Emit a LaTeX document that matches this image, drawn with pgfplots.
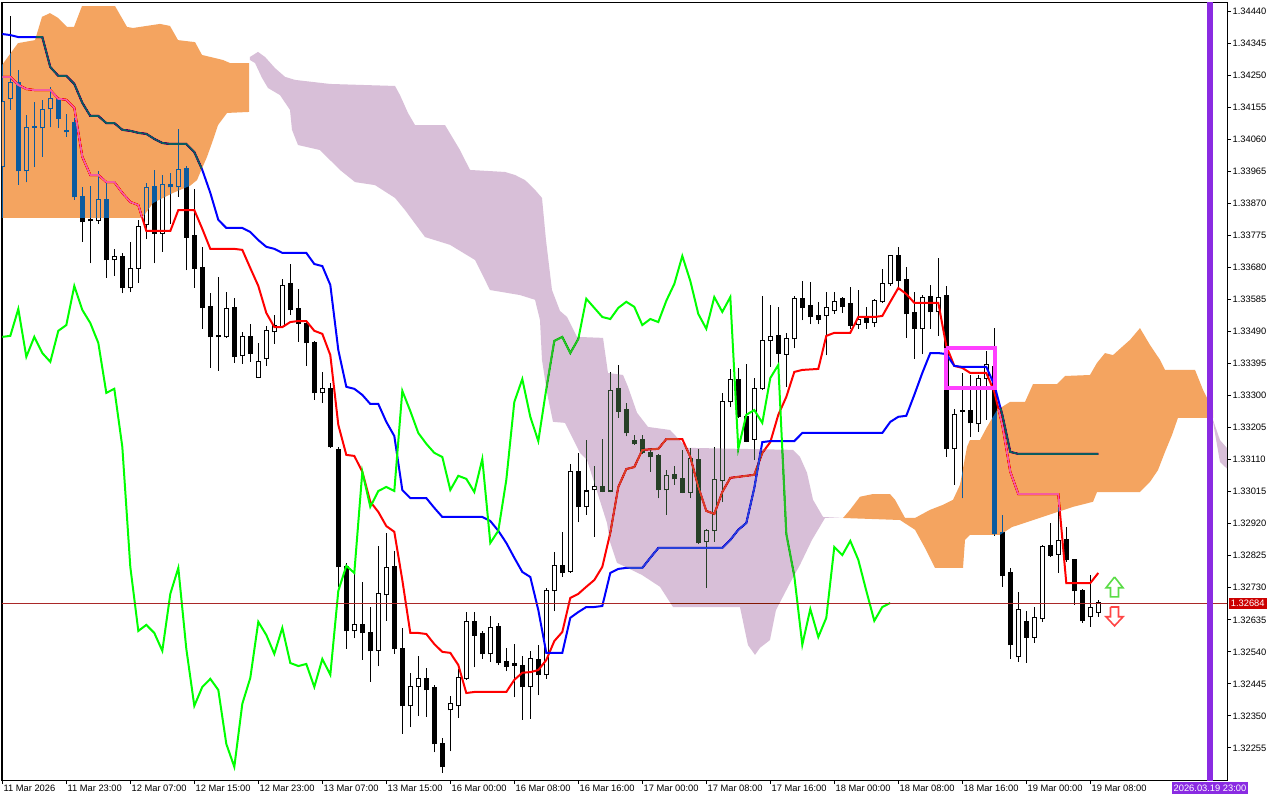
\documentclass[border=0pt]{standalone}
\usepackage{pgfplots}
\pgfplotsset{compat=1.18}
\usepackage{pgfplotstable}
\usepackage{fontspec}
\setmainfont{Liberation Sans}

\definecolor{tenkan}{RGB}{255,0,0}
\definecolor{kijun}{RGB}{0,0,255}
\definecolor{chikou}{RGB}{0,255,0}
% cloud colours are given inverted and laid on with blend mode=difference:
% white under them turns into the cloud colour, black candles into its complement
\definecolor{sandyinv}{RGB}{11,91,159}   % sandy brown 244,164,96
\definecolor{thistleinv}{RGB}{39,64,39}  % thistle 216,191,216
\definecolor{cursor}{RGB}{138,43,226}
\definecolor{bidline}{RGB}{170,40,40}
\definecolor{bidbox}{RGB}{204,0,0}
\definecolor{boxmag}{RGB}{255,64,255}

% error-bar candles: no visible marker at the data point
\pgfplotsset{candle/.style={only marks, mark=*, mark size=0pt, mark options={draw=none, fill=none}}}

% GBPUSD-like H1 candles, k = hours from 11 Mar 15:00
\pgfplotstableread{
k o h l c
0 1.33978 1.34191 1.33963 1.34171
1 1.34180 1.34426 1.34147 1.34227
2 1.34227 1.34265 1.33925 1.33966
3 1.33966 1.34132 1.33933 1.34096
4 1.34096 1.34171 1.33978 1.34099
5 1.34094 1.34177 1.34008 1.34147
6 1.34150 1.34215 1.34096 1.34180
7 1.34177 1.34182 1.34094 1.34123
8 1.34082 1.34135 1.34067 1.34085
9 1.34111 1.34123 1.33880 1.33889
10 1.33889 1.33919 1.33756 1.33815
11 1.33818 1.33922 1.33693 1.33821
12 1.33818 1.33966 1.33809 1.33880
13 1.33880 1.33930 1.33649 1.33702
14 1.33702 1.33735 1.33655 1.33711
15 1.33711 1.33723 1.33604 1.33619
16 1.33619 1.33756 1.33607 1.33678
17 1.33678 1.33821 1.33634 1.33800
18 1.33806 1.33930 1.33764 1.33916
19 1.33919 1.33969 1.33693 1.33782
20 1.33782 1.33954 1.33726 1.33927
21 1.33927 1.33960 1.33809 1.33919
22 1.33919 1.34091 1.33889 1.33969
23 1.33972 1.33981 1.33672 1.33770
24 1.33776 1.33913 1.33619 1.33678
25 1.33681 1.33741 1.33498 1.33560
26 1.33563 1.33604 1.33382 1.33474
27 1.33474 1.33652 1.33373 1.33477
28 1.33474 1.33607 1.33471 1.33557
29 1.33560 1.33589 1.33397 1.33415
30 1.33418 1.33489 1.33394 1.33474
31 1.33474 1.33512 1.33400 1.33426
32 1.33355 1.33456 1.33352 1.33400
33 1.33409 1.33506 1.33388 1.33492
34 1.33489 1.33539 1.33453 1.33509
35 1.33506 1.33646 1.33503 1.33625
36 1.33631 1.33690 1.33539 1.33554
37 1.33557 1.33616 1.33459 1.33515
38 1.33515 1.33518 1.33388 1.33456
39 1.33456 1.33462 1.33287 1.33308
40 1.33308 1.33370 1.33278 1.33320
41 1.33320 1.33337 1.33145 1.33148
42 1.33139 1.33148 1.32733 1.32792
43 1.32792 1.32804 1.32549 1.32602
44 1.32602 1.32774 1.32581 1.32620
45 1.32620 1.32747 1.32516 1.32596
46 1.32596 1.32673 1.32451 1.32543
47 1.32543 1.32854 1.32498 1.32712
48 1.32709 1.32893 1.32632 1.32789
49 1.32792 1.32839 1.32534 1.32549
50 1.32549 1.32611 1.32297 1.32380
51 1.32380 1.32478 1.32317 1.32436
52 1.32436 1.32528 1.32350 1.32460
53 1.32460 1.32492 1.32347 1.32427
54 1.32433 1.32442 1.32243 1.32267
55 1.32267 1.32285 1.32181 1.32199
56 1.32368 1.32409 1.32246 1.32386
57 1.32380 1.32489 1.32344 1.32463
58 1.32460 1.32658 1.32457 1.32629
59 1.32629 1.32658 1.32495 1.32590
60 1.32593 1.32602 1.32519 1.32534
61 1.32534 1.32647 1.32510 1.32611
62 1.32614 1.32626 1.32501 1.32507
63 1.32510 1.32552 1.32483 1.32498
64 1.32501 1.32563 1.32406 1.32504
65 1.32501 1.32528 1.32338 1.32436
66 1.32436 1.32543 1.32341 1.32519
67 1.32516 1.32561 1.32412 1.32472
68 1.32472 1.32730 1.32460 1.32721
69 1.32721 1.32836 1.32661 1.32795
70 1.32795 1.32896 1.32762 1.32774
71 1.32777 1.33097 1.32774 1.33074
72 1.33074 1.33130 1.32925 1.32970
73 1.32970 1.33168 1.32946 1.33017
74 1.33020 1.33091 1.32881 1.33029
75 1.33029 1.33171 1.33014 1.33017
76 1.33017 1.33370 1.33014 1.33314
77 1.33320 1.33391 1.33234 1.33254
78 1.33260 1.33278 1.33180 1.33189
79 1.33168 1.33183 1.33154 1.33157
80 1.33171 1.33183 1.33127 1.33130
81 1.33130 1.33145 1.33074 1.33118
82 1.33121 1.33127 1.32996 1.33020
83 1.33020 1.33079 1.32946 1.33062
84 1.33065 1.33091 1.33035 1.33053
85 1.33053 1.33139 1.33011 1.33014
86 1.33014 1.33145 1.32996 1.33112
87 1.33109 1.33142 1.32860 1.32863
88 1.32866 1.32905 1.32730 1.32899
89 1.32899 1.33148 1.32866 1.33050
90 1.33047 1.33308 1.32985 1.33281
91 1.33281 1.33379 1.33266 1.33349
92 1.33349 1.33382 1.33234 1.33237
93 1.33237 1.33394 1.33162 1.33165
94 1.33171 1.33352 1.33109 1.33320
95 1.33320 1.33595 1.33317 1.33462
96 1.33462 1.33569 1.33385 1.33474
97 1.33477 1.33563 1.33385 1.33426
98 1.33423 1.33486 1.33326 1.33468
99 1.33468 1.33595 1.33441 1.33587
100 1.33587 1.33640 1.33524 1.33560
101 1.33566 1.33637 1.33512 1.33533
102 1.33536 1.33578 1.33512 1.33527
103 1.33536 1.33607 1.33420 1.33560
104 1.33551 1.33607 1.33542 1.33578
105 1.33587 1.33592 1.33545 1.33563
106 1.33572 1.33622 1.33498 1.33509
107 1.33512 1.33613 1.33498 1.33527
108 1.33533 1.33563 1.33498 1.33518
109 1.33518 1.33587 1.33503 1.33581
110 1.33578 1.33675 1.33575 1.33631
111 1.33631 1.33717 1.33625 1.33714
112 1.33714 1.33741 1.33613 1.33640
113 1.33643 1.33681 1.33471 1.33542
114 1.33545 1.33607 1.33409 1.33498
115 1.33498 1.33598 1.33423 1.33592
116 1.33595 1.33628 1.33498 1.33548
117 1.33548 1.33708 1.33477 1.33592
118 1.33598 1.33625 1.33118 1.33142
119 1.33142 1.33260 1.33035 1.33243
120 1.33254 1.33367 1.32996 1.33257
121 1.33257 1.33361 1.33177 1.33219
122 1.33216 1.33361 1.33192 1.33352
123 1.33352 1.33432 1.33228 1.33391
124 1.33385 1.33501 1.32884 1.32890
125 1.32893 1.32946 1.32733 1.32765
126 1.32774 1.32789 1.32519 1.32561
127 1.32525 1.32718 1.32510 1.32667
128 1.32629 1.32661 1.32507 1.32584
129 1.32584 1.32673 1.32567 1.32641
130 1.32638 1.32857 1.32629 1.32851
131 1.32854 1.32922 1.32822 1.32827
132 1.32830 1.32970 1.32774 1.32869
133 1.32872 1.32910 1.32807 1.32813
134 1.32813 1.32816 1.32679 1.32721
135 1.32721 1.32727 1.32626 1.32632
136 1.32644 1.32768 1.32614 1.32673
137 1.32658 1.32694 1.32644 1.32685
}\candles

\begin{document}
\begin{tikzpicture}
\path[use as bounding box] (0pt,0pt) rectangle (960pt,-600pt);
\begin{axis}[
    at={(1.5pt,-1.5pt)}, anchor=north west,
    width=918.75pt, height=583.5pt, scale only axis,
    xmin=-0.04, xmax=153.09, ymin=1.32160, ymax=1.34467,
    clip mode=individual,
    axis background/.style={fill=white},
    axis line style={line width=0.75pt},
    tick align=outside, major tick length=3pt,
    major tick style={black, line width=0.75pt},
    xtick pos=left, ytick pos=right, yticklabel pos=right,
    scaled y ticks=false,
    every tick label/.append style={font=\fontsize{7}{8}\selectfont},
    ytick={1.34440,1.34345,1.34250,1.34155,1.34060,1.33965,1.33870,1.33775,1.33680,1.33585,1.33490,1.33395,1.33300,1.33205,1.33110,1.33015,1.32920,1.32825,1.32730,1.32635,1.32540,1.32445,1.32350,1.32255},
    yticklabels={1.34440,1.34345,1.34250,1.34155,1.34060,1.33965,1.33870,1.33775,1.33680,1.33585,1.33490,1.33395,1.33300,1.33205,1.33110,1.33015,1.32920,1.32825,1.32730,1.32635,1.32540,1.32445,1.32350,1.32255},
    yticklabel style={anchor=west, inner sep=0pt, xshift=1pt},
    xtick={0,8,...,136},
    xticklabels={11 Mar 2026,11 Mar 23:00,12 Mar 07:00,12 Mar 15:00,12 Mar 23:00,13 Mar 07:00,13 Mar 15:00,16 Mar 00:00,16 Mar 08:00,16 Mar 16:00,17 Mar 00:00,17 Mar 08:00,17 Mar 16:00,18 Mar 00:00,18 Mar 08:00,18 Mar 16:00,19 Mar 00:00,19 Mar 08:00},
    xticklabel style={anchor=north west, inner sep=0pt, xshift=0.75pt, yshift=-0.5pt},
]
% wicks
\addplot[candle, error bars/.cd, y dir=plus, y explicit, error mark=none,
    error bar style={black, line width=0.75pt}]
    table[x=k, y=l, y error plus expr={\thisrow{h}-\thisrow{l}}] {\candles};
% bodies, all black first
\addplot[candle, error bars/.cd, y dir=plus, y explicit, error mark=none,
    error bar style={black, line width=3.75pt}]
    table[x=k, y expr={min(\thisrow{o},\thisrow{c})-0.000015},
          y error plus expr={abs(\thisrow{o}-\thisrow{c})+0.00003}] {\candles};
% hollow inside of the bull candles
\addplot[candle, restrict expr to domain={\thisrow{c}-\thisrow{o}}{0.00004:1},
    error bars/.cd, y dir=plus, y explicit, error mark=none,
    error bar style={white, line width=2.25pt}]
    table[x=k, y expr={\thisrow{o}+0.000015},
          y error plus expr={\thisrow{c}-\thisrow{o}-0.00003}] {\candles};

% Tenkan-sen
\addplot[tenkan, line width=1.5pt] coordinates {
(0,1.34245)(1,1.34245)(2,1.34221)(3,1.34209)(4,1.34206)(6,1.34206)(7,1.34180)(8,1.34177)(9,1.34153)(10,1.34008)(11,1.33954)(12,1.33954)(13,1.33933)(14,1.33933)(15,1.33901)(16,1.33874)(17,1.33865)(18,1.33788)(21,1.33788)(22,1.33850)(24,1.33850)(25,1.33794)(26,1.33735)(29,1.33735)(30,1.33732)(31,1.33678)(32,1.33625)(33,1.33545)(34,1.33503)(35,1.33503)(36,1.33518)(37,1.33521)(38,1.33521)(39,1.33492)(40,1.33483)(41,1.33420)(42,1.33213)(43,1.33124)(44,1.33121)(45,1.33074)(46,1.32985)(47,1.32955)(48,1.32913)(49,1.32896)(50,1.32753)(51,1.32596)(52,1.32596)(53,1.32593)(54,1.32563)(55,1.32540)(56,1.32537)(57,1.32501)(58,1.32418)(59,1.32421)(63,1.32421)(64,1.32457)(65,1.32478)(66,1.32480)(67,1.32486)(68,1.32516)(69,1.32572)(70,1.32599)(71,1.32700)(72,1.32712)(73,1.32733)(74,1.32753)(75,1.32792)(76,1.32893)(77,1.33029)(78,1.33082)(79,1.33088)(80,1.33139)(82,1.33142)(83,1.33171)(85,1.33171)(86,1.33118)(87,1.33029)(88,1.32958)(89,1.32949)(90,1.33014)(91,1.33056)(92,1.33059)(93,1.33062)(94,1.33065)(95,1.33130)(96,1.33162)(97,1.33243)(98,1.33296)(99,1.33370)(100,1.33376)(102,1.33379)(103,1.33477)(104,1.33486)(106,1.33486)(107,1.33533)(109,1.33533)(110,1.33536)(111,1.33578)(112,1.33619)(113,1.33601)(114,1.33575)(117,1.33575)(118,1.33447)(119,1.33388)(120,1.33382)(121,1.33367)(123,1.33367)(124,1.33311)(125,1.33213)(126,1.33074)(127,1.33008)(132,1.33008)(133,1.32744)(136,1.32744)(137,1.32774)};
% Kijun-sen
\addplot[kijun, line width=1.5pt] coordinates {
(0,1.34372)(1,1.34369)(2,1.34363)(5,1.34363)(6,1.34274)(7,1.34248)(8,1.34248)(9,1.34224)(10,1.34168)(11,1.34129)(12,1.34129)(13,1.34108)(14,1.34108)(15,1.34088)(16,1.34085)(17,1.34079)(18,1.34076)(19,1.34061)(20,1.34049)(21,1.34046)(23,1.34046)(24,1.34022)(25,1.33969)(26,1.33901)(27,1.33821)(28,1.33797)(30,1.33797)(31,1.33785)(32,1.33761)(33,1.33741)(34,1.33735)(35,1.33723)(38,1.33723)(39,1.33690)(40,1.33684)(41,1.33628)(42,1.33435)(43,1.33326)(44,1.33320)(45,1.33302)(46,1.33275)(47,1.33275)(48,1.33222)(49,1.33180)(50,1.33020)(51,1.32996)(53,1.32996)(54,1.32967)(55,1.32940)(60,1.32940)(61,1.32928)(62,1.32899)(63,1.32863)(64,1.32819)(65,1.32777)(66,1.32762)(67,1.32664)(68,1.32537)(70,1.32537)(71,1.32641)(72,1.32658)(73,1.32673)(74,1.32673)(75,1.32676)(76,1.32774)(77,1.32786)(78,1.32789)(80,1.32789)(81,1.32819)(82,1.32848)(90,1.32848)(91,1.32872)(92,1.32902)(93,1.32922)(94,1.33026)(95,1.33162)(96,1.33165)(99,1.33165)(100,1.33189)(110,1.33189)(111,1.33222)(112,1.33237)(113,1.33240)(114,1.33302)(115,1.33367)(116,1.33426)(117,1.33426)(118,1.33423)(119,1.33388)(120,1.33385)(123,1.33385)(124,1.33332)(125,1.33243)(126,1.33133)(127,1.33127)(137,1.33127)};
% Chikou span
\addplot[chikou, line width=1.5pt] coordinates {
(0,1.33474)(1,1.33477)(2,1.33557)(3,1.33415)(4,1.33474)(5,1.33426)(6,1.33400)(7,1.33492)(8,1.33509)(9,1.33625)(10,1.33554)(11,1.33515)(12,1.33456)(13,1.33308)(14,1.33320)(15,1.33148)(16,1.32792)(17,1.32602)(18,1.32620)(19,1.32596)(20,1.32543)(21,1.32712)(22,1.32789)(23,1.32549)(24,1.32380)(25,1.32436)(26,1.32460)(27,1.32427)(28,1.32267)(29,1.32199)(30,1.32386)(31,1.32463)(32,1.32629)(33,1.32590)(34,1.32534)(35,1.32611)(36,1.32507)(37,1.32498)(38,1.32504)(39,1.32436)(40,1.32519)(41,1.32472)(42,1.32721)(43,1.32795)(44,1.32774)(45,1.33074)(46,1.32970)(47,1.33017)(48,1.33029)(49,1.33017)(50,1.33314)(51,1.33254)(52,1.33189)(53,1.33157)(54,1.33130)(55,1.33118)(56,1.33020)(57,1.33062)(58,1.33053)(59,1.33014)(60,1.33112)(61,1.32863)(62,1.32899)(63,1.33050)(64,1.33281)(65,1.33349)(66,1.33237)(67,1.33165)(68,1.33320)(69,1.33462)(70,1.33474)(71,1.33426)(72,1.33468)(73,1.33587)(74,1.33560)(75,1.33533)(76,1.33527)(77,1.33560)(78,1.33578)(79,1.33563)(80,1.33509)(81,1.33527)(82,1.33518)(83,1.33581)(84,1.33631)(85,1.33714)(86,1.33640)(87,1.33542)(88,1.33498)(89,1.33592)(90,1.33548)(91,1.33592)(92,1.33142)(93,1.33243)(94,1.33257)(95,1.33219)(96,1.33352)(97,1.33391)(98,1.32890)(99,1.32765)(100,1.32561)(101,1.32667)(102,1.32584)(103,1.32641)(104,1.32851)(105,1.32827)(106,1.32869)(107,1.32813)(108,1.32721)(109,1.32632)(110,1.32673)(111,1.32685)};
% bid line
\addplot[bidline, line width=0.75pt] coordinates {(-1,1.32684)(154,1.32684)};

% Kumo, bullish part 1
\addplot[draw=none, fill=sandyinv, blend mode=difference] coordinates {
(-0.5,1.34265)(1.34,1.34325)(1.96,1.34345)(4.09,1.34354)(4.96,1.34423)(5.96,1.34434)(6.96,1.34420)(8.09,1.34393)(8.96,1.34393)(9.96,1.34455)(14.09,1.34455)(15.59,1.34393)(16.34,1.34390)(19.71,1.34402)(20.96,1.34396)(21.96,1.34354)(24.09,1.34348)(24.96,1.34310)(27.59,1.34295)(28.46,1.34286)(30.84,1.34286)
(30.84,1.34141)(28.09,1.34138)(26.96,1.34102)(26.34,1.34058)(25.59,1.34008)(24.71,1.33960)(24.34,1.33939)(23.46,1.33922)(21.34,1.33901)(18.84,1.33871)(17.59,1.33830)(17.21,1.33827)(-0.5,1.33827)};
% Kumo, bearish part
\addplot[draw=none, fill=thistleinv, blend mode=difference] coordinates {
(30.96,1.34304)(31.96,1.34319)(32.84,1.34304)(34.09,1.34271)(35.34,1.34245)(36.59,1.34236)(40.96,1.34224)(49.09,1.34218)(49.71,1.34191)(50.71,1.34138)(51.59,1.34102)(55.34,1.34102)(57.21,1.34028)(58.46,1.33969)(62.84,1.33963)(64.09,1.33954)(65.34,1.33939)(66.59,1.33910)(67.46,1.33886)(67.96,1.33761)(68.71,1.33613)(69.71,1.33551)(70.59,1.33533)(71.84,1.33474)(75.09,1.33471)(75.71,1.33367)(77.59,1.33361)(78.21,1.33326)(79.34,1.33249)(80.71,1.33207)(83.46,1.33198)(85.59,1.33145)(98.84,1.33139)(99.71,1.33118)(100.59,1.33071)(101.34,1.32991)(102.59,1.32940)(105.09,1.32937)
(102.84,1.32937)(101.21,1.32872)(99.71,1.32798)(98.46,1.32744)(96.71,1.32664)(95.96,1.32575)(94.71,1.32552)(94.09,1.32531)(93.21,1.32560)(92.21,1.32673)(83.84,1.32673)(82.21,1.32733)(79.96,1.32768)(76.84,1.32804)(75.96,1.32866)(75.59,1.32922)(73.09,1.33109)(72.21,1.33130)(70.34,1.33219)(68.84,1.33222)(68.09,1.33308)(67.46,1.33406)(67.21,1.33524)(66.59,1.33584)(64.71,1.33598)(60.96,1.33613)(59.09,1.33702)(55.96,1.33747)(52.84,1.33770)(50.34,1.33850)(49.09,1.33886)(46.59,1.33924)(44.09,1.33933)(42.21,1.33969)(39.71,1.34028)(36.96,1.34043)(36.21,1.34088)(35.96,1.34147)(34.71,1.34191)(33.21,1.34212)(32.46,1.34242)(31.59,1.34286)(30.96,1.34295)};
% Kumo, bullish part 2
\addplot[draw=none, fill=sandyinv, blend mode=difference] coordinates {
(105.09,1.32937)(105.96,1.32961)(107.21,1.33000)(108.84,1.33008)(110.96,1.33008)(111.59,1.32991)(112.84,1.32937)(114.09,1.32937)(115.96,1.32961)(117.59,1.32976)(118.84,1.32991)(119.71,1.33035)(120.59,1.33148)(120.96,1.33168)(122.21,1.33168)(123.09,1.33207)(124.34,1.33257)(125.96,1.33281)(127.84,1.33281)(128.84,1.33334)(131.84,1.33334)(132.84,1.33358)(135.96,1.33361)(136.84,1.33397)(137.84,1.33426)(138.84,1.33420)(139.96,1.33444)(140.96,1.33465)(142.21,1.33500)(143.46,1.33450)(144.71,1.33406)(145.34,1.33376)(149.09,1.33376)(150.09,1.33317)(151.34,1.33257)
(151.34,1.33234)(146.96,1.33234)(146.21,1.33183)(145.34,1.33133)(144.46,1.33079)(143.46,1.33044)(142.21,1.33014)(136.84,1.33014)(136.34,1.32985)(133.84,1.32970)(126.21,1.32910)(124.71,1.32887)(120.96,1.32887)(120.34,1.32872)(120.09,1.32789)(116.59,1.32789)(115.34,1.32848)(114.09,1.32902)(112.21,1.32931)};
\addplot[draw=none, fill=thistleinv, blend mode=difference] coordinates {
(151.34,1.33228)(152.21,1.33168)(153.5,1.33133)(153.5,1.33074)(152.21,1.33103)(151.34,1.33222)};

% marked box and signal arrows
\addplot[boxmag, line width=3pt, line cap=square] coordinates {
(117.96,1.33441)(124.09,1.33441)(124.09,1.33323)(117.96,1.33323)(117.96,1.33441)};
\addplot[draw={rgb,255:red,90;green,220;blue,70}, line width=1.2pt, line join=miter] coordinates {
(139.03,1.32762)(140.09,1.32730)(139.53,1.32730)(139.53,1.32703)(138.53,1.32703)(138.53,1.32730)(137.97,1.32730)(139.03,1.32762)};
\addplot[draw={rgb,255:red,255;green,70;blue,70}, line width=1.2pt, line join=miter] coordinates {
(138.53,1.32673)(139.53,1.32673)(139.53,1.32644)(140.09,1.32644)(139.03,1.32617)(137.97,1.32644)(138.53,1.32644)(138.53,1.32673)};
% crosshair line
\addplot[cursor, line width=4.5pt] coordinates {(150.96,1.32100)(150.96,1.34500)};

\node[anchor=west, fill=bidbox, text=white, inner xsep=1.5pt, inner ysep=1.5pt,
      font=\fontsize{7}{8}\selectfont, xshift=1.2pt]
      at (axis cs:153.09,1.32684) {1.32684};
\node[anchor=north, fill=cursor, text=white, inner xsep=1.5pt, inner ysep=2pt,
      font=\fontsize{7}{8}\selectfont, yshift=-1.2pt]
      at (axis cs:150.96,1.32160) {2026.03.19 23:00};
\end{axis}
\end{tikzpicture}
\end{document}
